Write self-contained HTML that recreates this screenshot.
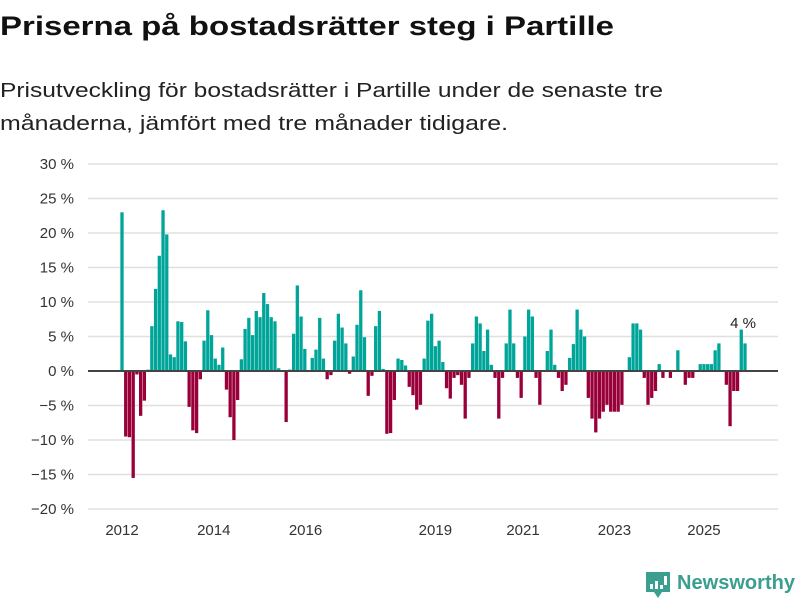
<!DOCTYPE html>
<html><head><meta charset="utf-8"><style>
body{margin:0;background:#fff;}
svg{display:block;font-family:"Liberation Sans",sans-serif;}
</style></head><body>
<svg id="chart" width="800" height="600" viewBox="0 0 800 600" xmlns="http://www.w3.org/2000/svg">
<text x="0" y="35" font-size="27" font-weight="bold" fill="#111" textLength="614" lengthAdjust="spacingAndGlyphs">Priserna på bostadsrätter steg i Partille</text>
<text x="0" y="97" font-size="20" fill="#222" textLength="663" lengthAdjust="spacingAndGlyphs">Prisutveckling för bostadsrätter i Partille under de senaste tre</text>
<text x="0" y="130" font-size="20" fill="#222" textLength="508" lengthAdjust="spacingAndGlyphs">månaderna, jämfört med tre månader tidigare.</text>
<g id="grid"></g><g id="bars"></g><g id="axes"></g>
<g>
<path d="M646 572 h24 v20 h-8 l-4 6 l-4 -6 h-8 z" fill="#3a9f8f"/>
<rect x="650" y="584" width="3" height="5" fill="#fff"/><rect x="655" y="581" width="3" height="8" fill="#fff"/><rect x="660" y="585" width="3" height="4" fill="#fff"/><rect x="664" y="576" width="3" height="9" fill="#fff"/>
<text x="677" y="589" font-size="20" font-weight="bold" fill="#3a9f8f" textLength="118" lengthAdjust="spacingAndGlyphs">Newsworthy</text>
</g>
</svg>
<script>
const values = [23.0,-9.5,-9.6,-15.5,-0.5,-6.5,-4.3,0.2,6.5,11.9,16.7,23.3,19.8,2.4,2.0,7.2,7.1,4.3,-5.2,-8.6,-9.0,-1.2,4.4,8.8,5.2,1.8,0.9,3.4,-2.7,-6.7,-10.0,-4.2,1.7,6.1,7.7,5.2,8.7,7.8,11.3,9.7,7.8,7.2,0.4,0,-7.4,0.2,5.4,12.4,7.9,3.2,0,1.9,3.1,7.7,1.8,-1.2,-0.6,4.4,8.3,6.3,4.0,-0.4,2.1,6.7,11.7,4.9,-3.6,-0.7,6.5,8.7,0.3,-9.1,-9.0,-4.2,1.8,1.6,0.8,-2.3,-3.5,-5.6,-4.9,1.8,7.3,8.3,3.6,4.4,1.3,-2.5,-4.0,-1.0,-0.6,-2.0,-6.9,-1.0,4.0,7.9,6.9,2.9,6.0,0.9,-1.0,-6.9,-1.0,4.0,8.9,4.0,-1.0,-3.9,5.0,8.9,7.9,-1.0,-4.9,0,2.9,6.0,0.9,-1.0,-2.9,-2.0,1.9,3.9,8.9,6.0,5.0,-3.9,-6.9,-8.9,-6.9,-5.9,-4.9,-5.9,-5.9,-5.9,-4.9,0,2.0,6.9,6.9,6.0,-1.0,-4.9,-3.9,-2.9,1.0,-1.0,0,-1.0,0,3.0,0,-2.0,-1.0,-1.0,0,1.0,1.0,1.0,1.0,3.0,4.0,0,-2.0,-8.0,-2.9,-2.9,6.0,4.0];
const yTicks = [30,25,20,15,10,5,0,-5,-10,-15,-20];
const xLabels = ["2012","2014","2016","2019","2021","2023","2025"];
const xLabelIdx = [0,24.6,49.2,84,107.5,132,156];
const lastLabel = "4 %";

const NS="http://www.w3.org/2000/svg";
const y0=164,y1=509,vmax=30,vmin=-20;
const yScale=v=>y0+(vmax-v)*(y1-y0)/(vmax-vmin);
const x0=122,x1=745;
const step=(x1-x0)/(values.length-1);
const xScale=i=>x0+i*step;
function mk(tag,attrs,parent){const e=document.createElementNS(NS,tag);for(const k in attrs)e.setAttribute(k,attrs[k]);parent.appendChild(e);return e;}
const grid=document.getElementById('grid'),bars=document.getElementById('bars'),axes=document.getElementById('axes');
yTicks.forEach(t=>{
  const l=mk('line',{x1:88,x2:778,y1:yScale(t),y2:yScale(t),stroke:'#e0e0e0','stroke-width':1.5},grid);
  
  
  const tx=mk('text',{x:74,y:yScale(t)+5,'text-anchor':'end','font-size':15,fill:'#333'},axes);
  tx.textContent=(t<0?'\u2212'+(-t):t)+' %';
  
  
});
values.forEach((v,i)=>{
  if(v===0)return;
  const yt=yScale(Math.max(v,0)),yb=yScale(Math.min(v,0));
  const r=mk('rect',{x:xScale(i)-1.65,y:yt,width:3.3,height:yb-yt,fill:v>0?'#00a59a':'#990039'},bars);
  
  
});
const z=mk('line',{x1:88,x2:778,y1:yScale(0),y2:yScale(0),stroke:'#444','stroke-width':2},axes);


xLabels.forEach((s,k)=>{
  const tx=mk('text',{x:xScale(xLabelIdx[k]),y:535,'text-anchor':'middle','font-size':15,fill:'#333'},axes);
  tx.textContent=s;
  
  
});
const li=values.length-1;
const an=mk('text',{x:xScale(li)-2,y:328,'text-anchor':'middle','font-size':15,fill:'#222'},axes);
an.textContent=lastLabel;


</script>
</body></html>
